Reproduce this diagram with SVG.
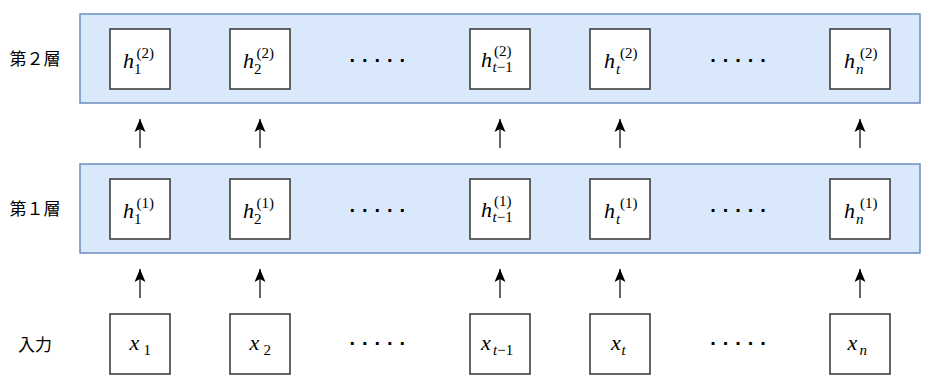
<svg xmlns="http://www.w3.org/2000/svg" width="930" height="387" viewBox="0 0 930 387">
<style>
.band{fill:#dae8fc;stroke:#6c8ebf;stroke-width:1.5}
.box{fill:#ffffff;stroke:#333333;stroke-width:1.5}
.lbl{font-family:"Noto Sans CJK JP","Noto Sans CJK SC",sans-serif;font-size:17px;fill:#000;text-anchor:middle}
.m{font-family:"Liberation Serif",serif;font-style:italic;font-size:22px;fill:#000}
.s{font-family:"Liberation Serif",serif;font-size:15px;fill:#000}
.si{font-family:"Liberation Serif",serif;font-style:italic;font-size:15px;fill:#000}
.sn{font-family:"Liberation Serif",serif;font-size:15px;font-style:normal;fill:#000}
.dots{font-family:"Liberation Sans",sans-serif;font-weight:bold;font-size:20px;letter-spacing:6.94px;fill:#000}
.conn{stroke:#000;stroke-width:1.2;fill:none;marker-end:url(#arr)}
</style>
<defs>
<marker id="arr" viewBox="-14 -7 15 14" refX="0" refY="0" markerWidth="15" markerHeight="14" markerUnits="userSpaceOnUse" orient="auto">
<path d="M0,0 L-13,-5.5 L-10,0 L-13,5.5 Z" fill="#000"/>
</marker>
</defs>

<g id="layer2">
<rect class="band" x="80" y="14" width="840" height="89"/>
</g>
<g id="layer1">
<rect class="band" x="80" y="164" width="840" height="89"/>
</g>

<text class="lbl" x="35" y="65">第２層</text>
<text class="lbl" x="35" y="215">第１層</text>
<text class="lbl" x="35" y="351">入力</text>

<!-- layer 2 nodes -->
<g id="h2_1"><rect class="box" x="110" y="29" width="60" height="60"/>
<text class="m" x="123" y="67.7">h</text><text class="sn" x="134" y="73.5">1</text><text class="s" x="136.5" y="58">(2)</text></g>
<g id="h2_2"><rect class="box" x="230" y="29" width="60" height="60"/>
<text class="m" x="243" y="67.7">h</text><text class="sn" x="254" y="73.5">2</text><text class="s" x="256.5" y="58">(2)</text></g>
<g id="h2_tm1"><rect class="box" x="470" y="29" width="60" height="60"/>
<text class="m" x="481" y="66.7">h</text><text class="si" x="492.5" y="72">t<tspan class="sn">−1</tspan></text><text class="s" x="494" y="56">(2)</text></g>
<g id="h2_t"><rect class="box" x="590" y="29" width="60" height="60"/>
<text class="m" x="604" y="67.7">h</text><text class="si" x="616" y="73.5">t</text><text class="s" x="620" y="58">(2)</text></g>
<g id="h2_n"><rect class="box" x="830" y="29" width="60" height="60"/>
<text class="m" x="844" y="67.7">h</text><text class="si" x="856" y="73.5">n</text><text class="s" x="860" y="58">(2)</text></g>
<text class="dots" x="349.6" y="61.5">.....</text>
<text class="dots" x="710.3" y="61.5">.....</text>

<!-- layer 1 nodes -->
<g id="h1_1"><rect class="box" x="110" y="179" width="60" height="60"/>
<text class="m" x="123" y="217.7">h</text><text class="sn" x="134" y="223.5">1</text><text class="s" x="136.5" y="208">(1)</text></g>
<g id="h1_2"><rect class="box" x="230" y="179" width="60" height="60"/>
<text class="m" x="243" y="217.7">h</text><text class="sn" x="254" y="223.5">2</text><text class="s" x="256.5" y="208">(1)</text></g>
<g id="h1_tm1"><rect class="box" x="470" y="179" width="60" height="60"/>
<text class="m" x="481" y="216.7">h</text><text class="si" x="492.5" y="222">t<tspan class="sn">−1</tspan></text><text class="s" x="494" y="206">(1)</text></g>
<g id="h1_t"><rect class="box" x="590" y="179" width="60" height="60"/>
<text class="m" x="604" y="217.7">h</text><text class="si" x="616" y="223.5">t</text><text class="s" x="620" y="208">(1)</text></g>
<g id="h1_n"><rect class="box" x="830" y="179" width="60" height="60"/>
<text class="m" x="844" y="217.7">h</text><text class="si" x="856" y="223.5">n</text><text class="s" x="860" y="208">(1)</text></g>
<text class="dots" x="349.6" y="211.5">.....</text>
<text class="dots" x="710.3" y="211.5">.....</text>

<!-- input nodes -->
<g id="x_1"><rect class="box" x="110" y="314" width="60" height="60"/>
<text class="m" x="129.5" y="350">x</text><text class="sn" x="143.5" y="355">1</text></g>
<g id="x_2"><rect class="box" x="230" y="314" width="60" height="60"/>
<text class="m" x="249.5" y="350">x</text><text class="sn" x="263.5" y="355">2</text></g>
<g id="x_tm1"><rect class="box" x="470" y="314" width="60" height="60"/>
<text class="m" x="481" y="350">x</text><text class="si" x="493" y="355">t<tspan class="sn">−1</tspan></text></g>
<g id="x_t"><rect class="box" x="590" y="314" width="60" height="60"/>
<text class="m" x="611" y="350">x</text><text class="si" x="621.5" y="355">t</text></g>
<g id="x_n"><rect class="box" x="830" y="314" width="60" height="60"/>
<text class="m" x="847.5" y="350">x</text><text class="si" x="859.5" y="355">n</text></g>
<text class="dots" x="349.6" y="344.5">.....</text>
<text class="dots" x="710.3" y="344.5">.....</text>

<g id="connectors">
<line class="conn" x1="140" y1="148" x2="140" y2="119"/>
<line class="conn" x1="260" y1="148" x2="260" y2="119"/>
<line class="conn" x1="500" y1="148" x2="500" y2="119"/>
<line class="conn" x1="620" y1="148" x2="620" y2="119"/>
<line class="conn" x1="860" y1="148" x2="860" y2="119"/>
<line class="conn" x1="140" y1="298" x2="140" y2="269"/>
<line class="conn" x1="260" y1="298" x2="260" y2="269"/>
<line class="conn" x1="500" y1="298" x2="500" y2="269"/>
<line class="conn" x1="620" y1="298" x2="620" y2="269"/>
<line class="conn" x1="860" y1="298" x2="860" y2="269"/>
</g>
</svg>
